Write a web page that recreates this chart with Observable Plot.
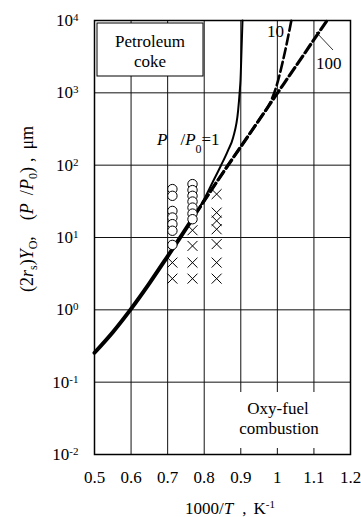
<!DOCTYPE html>
<html><head><meta charset="utf-8">
<script src="https://cdn.jsdelivr.net/npm/d3@7"></script>
<script src="https://cdn.jsdelivr.net/npm/@observablehq/plot@0.6"></script>
<style>body{margin:0;background:#fff} svg{display:block} svg text{font-family:"Liberation Serif","DejaVu Serif",serif !important}</style>
</head><body><div id="chart"></div>
<script>
const FONT = "Liberation Serif";

// Axis ticks
const xTicks = [0.5, 0.6, 0.7, 0.8, 0.9, 1.0, 1.1, 1.2];
const xTickLabels = ["0.5", "0.6", "0.7", "0.8", "0.9", "1", "1.1", "1.2"];
const yTicks = [1e-2, 1e-1, 1, 10, 100, 1000, 10000];
const yTickLabels = ["10^-2", "10^-1", "10^0", "10^1", "10^2", "10^3", "10^4"];

// Common curve (all P/P0 coincide)
const commonX = [0.5, 0.55, 0.60, 0.65, 0.70, 0.73, 0.7746];
const commonY = [0.255, 0.49, 1.03, 2.32, 5.5, 9.3, 20.5];

// P/P0 = 1 (solid)
const p1X = [0.7746, 0.8019, 0.8237, 0.8455, 0.8646, 0.8791, 0.8927, 0.8973, 0.8992, 0.9020, 0.9047];
const p1Y = [20.5, 35.4, 58.9, 98.2, 158, 242, 566, 1072, 1476, 3840, 10000];

// P/P0 = 10 (dashed)
const p10X = [0.7746, 0.8382, 0.9246, 0.9573, 0.9791, 0.9955, 1.0154, 1.0383];
const p10Y = [20.5, 62.8, 273, 478, 708, 1143, 2790, 10000];

// P/P0 = 100 (dashed)
const p100X = [0.7746, 0.8382, 0.9246, 0.9955, 1.0610, 1.1065, 1.136];
const p100Y = [20.5, 62.8, 273, 914, 2790, 6070, 10000];

// Open circles
const circleX = [0.713, 0.713, 0.713, 0.713, 0.713, 0.713, 0.713,
                 0.768, 0.768, 0.768, 0.768, 0.768, 0.768, 0.768];
const circleY = [46.7, 37.7, 23.3, 18.9, 15.3, 12.4, 7.9,
                 54.7, 45.2, 37.7, 31.4, 25.9, 21.4, 17.9];

// Crosses
const crossX = [0.713, 0.713,
                0.768, 0.768, 0.768, 0.768,
                0.834, 0.834, 0.834, 0.834, 0.834, 0.834, 0.834];
const crossY = [4.5, 2.7,
                12.6, 7.65, 4.49, 2.7,
                39.8, 22.1, 17, 13, 8.1, 4.5, 2.7];

const rows = (xs, ys) => xs.map((x, i) => ({x, y: ys[i]}));
const xLab = new Map(xTicks.map((t, i) => [t, xTickLabels[i]]));
const yLab = new Map(yTicks.map((t, i) => [t, yTickLabels[i]]));

const plot = Plot.plot({
  width: 361, height: 517,
  marginLeft: 94, marginRight: 11, marginTop: 20, marginBottom: 63,
  style: {fontFamily: FONT, fontSize: "17px", background: "white", color: "black"},
  x: {type: "linear", domain: [0.5, 1.2]},
  y: {type: "log", domain: [0.01, 10000]},
  marks: [
    Plot.gridX(xTicks, {stroke: "#111", strokeOpacity: 1, strokeWidth: 1}),
    Plot.gridY(yTicks, {stroke: "#111", strokeOpacity: 1, strokeWidth: 1}),
    Plot.line(rows(p1X, p1Y), {x: "x", y: "y", stroke: "black", strokeWidth: 2, curve: "monotone-x"}),
    Plot.line(rows(p100X, p100Y), {x: "x", y: "y", stroke: "black", strokeWidth: 3.2, strokeDasharray: "10,4", curve: "monotone-x"}),
    Plot.line(rows(p10X, p10Y), {x: "x", y: "y", stroke: "black", strokeWidth: 2.6, strokeDasharray: "10,4", curve: "monotone-x"}),
    Plot.line(rows(commonX, commonY), {x: "x", y: "y", stroke: "black", strokeWidth: 4, curve: "monotone-x"}),
    Plot.dot(rows(crossX, crossY), {x: "x", y: "y", symbol: "times", r: 4.6, stroke: "black", strokeWidth: 1}),
    Plot.dot(rows(circleX, circleY), {x: "x", y: "y", r: 4.7, stroke: "black", fill: "white", strokeWidth: 1}),
    Plot.frame({stroke: "black", strokeWidth: 1.5}),
    Plot.axisX(xTicks, {tickSize: 0, tickPadding: 16, tickFormat: d => xLab.get(d), label: null, fontSize: 17}),
    Plot.axisY(yTicks, {tickSize: 0, tickPadding: 16, tickFormat: d => yLab.get(d), label: null, fontSize: 17})
  ]
});

document.getElementById("chart").appendChild(plot);

const svg = d3.select(plot);
// superscripts for tick labels
svg.selectAll("text").each(function() {
  const t = d3.select(this);
  const s = t.text();
  if (s.includes("^")) {
    const [b, e] = s.split("^");
    t.text(b);
    t.append("tspan").attr("dy", "-0.45em").attr("font-size", "11px").text(e);
  }
});

const g = svg.append("g").attr("font-family", FONT).attr("font-size", 17)
  .attr("fill", "black").attr("text-anchor", "start");

// Petroleum coke box
g.append("rect").attr("x", 97).attr("y", 23).attr("width", 106).attr("height", 53)
  .attr("fill", "white").attr("stroke", "black").attr("stroke-width", 1);
g.append("text").attr("x", 150).attr("y", 47).attr("text-anchor", "middle").text("Petroleum");
g.append("text").attr("x", 150).attr("y", 66.5).attr("text-anchor", "middle").text("coke");

// Oxy-fuel combustion box
g.append("rect").attr("x", 236).attr("y", 392).attr("width", 86).attr("height", 56).attr("fill", "white");
g.append("text").attr("x", 278).attr("y", 414).attr("text-anchor", "middle").text("Oxy-fuel");
g.append("text").attr("x", 279).attr("y", 434).attr("text-anchor", "middle").text("combustion");

// P/P0 = 1 label
const pl = g.append("text").attr("x", 157).attr("y", 145);
pl.append("tspan").attr("font-style", "italic").text("P");
pl.append("tspan").attr("dx", 13).text("/");
pl.append("tspan").attr("font-style", "italic").text("P");
pl.append("tspan").attr("dy", 8).attr("font-size", "12px").text("0");
pl.append("tspan").attr("dy", -8).text("=1");

// curve labels
g.append("text").attr("x", 267).attr("y", 37).text("10");
g.append("text").attr("x", 316).attr("y", 69).text("100");
g.append("line").attr("x1", 316).attr("y1", 32).attr("x2", 333).attr("y2", 50)
  .attr("stroke", "black").attr("stroke-width", 0.8);

// x-axis title
const xt = g.append("text").attr("x", 185).attr("y", 514);
xt.append("tspan").text("1000/");
xt.append("tspan").attr("font-style", "italic").text("T");
xt.append("tspan").attr("dx", 9).text(",");
xt.append("tspan").attr("dx", 7).text("K");
xt.append("tspan").attr("dy", -6).attr("font-size", "11px").text("-1");

// y-axis title
const yt = g.append("text").attr("transform", "translate(33,292) rotate(-90)").attr("font-size", 18);
yt.append("tspan").text("(2");
yt.append("tspan").attr("font-style", "italic").text("r");
yt.append("tspan").attr("dy", 4).attr("font-size", "12px").text("s");
yt.append("tspan").attr("dy", -4).text(")");
yt.append("tspan").attr("font-style", "italic").text("Y");
yt.append("tspan").attr("dy", 4).attr("font-size", "12px").text("O");
yt.append("tspan").attr("dy", -4).text(",");
yt.append("tspan").attr("dx", 16).text("(");
yt.append("tspan").attr("font-style", "italic").text("P");
yt.append("tspan").attr("dx", 8).text("/");
yt.append("tspan").attr("font-style", "italic").text("P");
yt.append("tspan").attr("dy", 4).attr("font-size", "12px").text("0");
yt.append("tspan").attr("dy", -4).text(")");
yt.append("tspan").attr("dx", 5).text(",");
yt.append("tspan").attr("dx", 8).text("μm");
</script>
</body></html>
